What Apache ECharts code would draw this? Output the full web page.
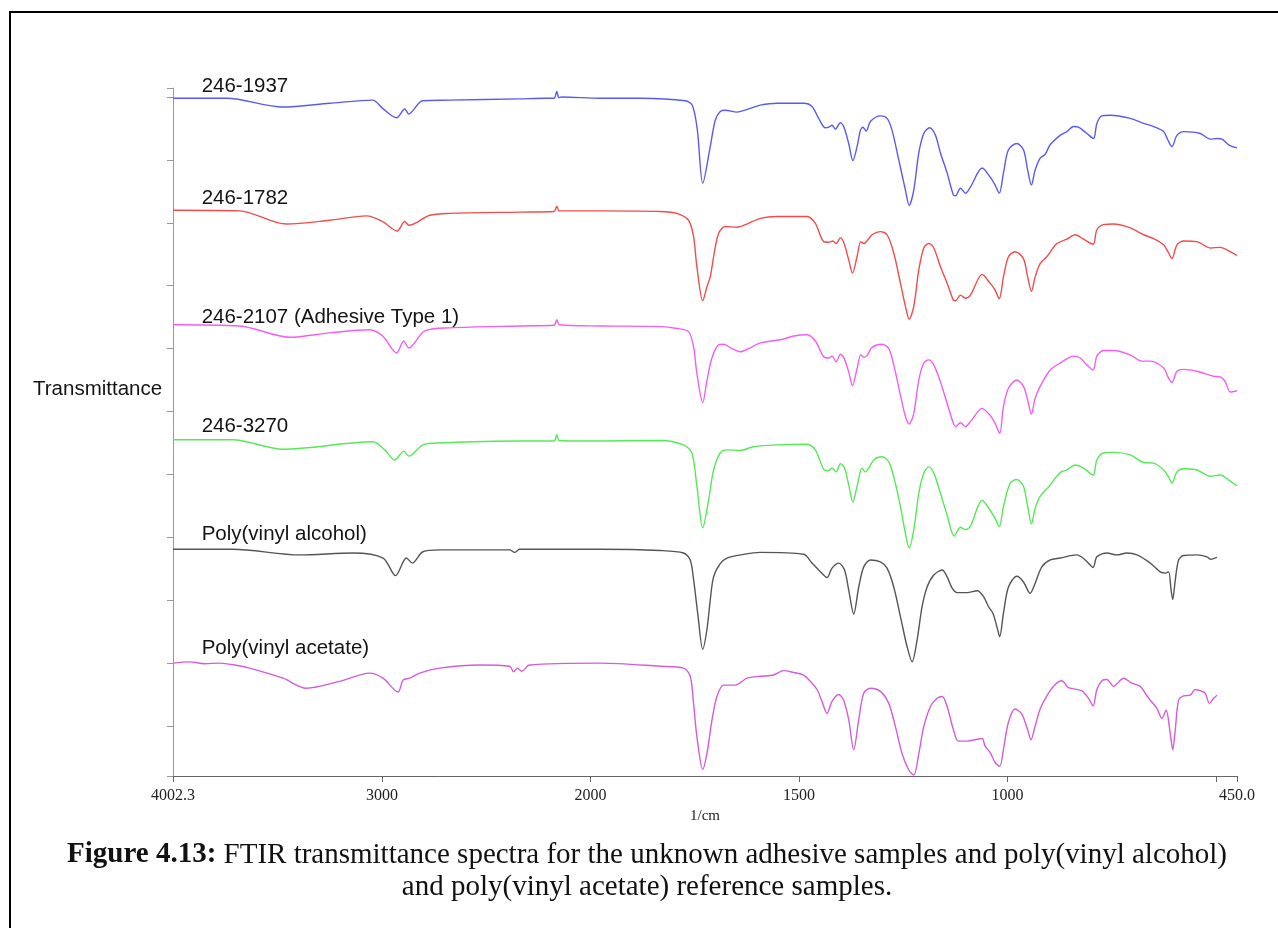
<!DOCTYPE html>
<html>
<head>
<meta charset="utf-8">
<title>FTIR transmittance spectra</title>
<script src="https://cdn.jsdelivr.net/npm/echarts@6/dist/echarts.min.js"></script>
<style>
  html, body { margin: 0; padding: 0; background: #fff; }
  #chart { width: 1278px; height: 928px; }
</style>
</head>
<body>
<div id="chart"></div>
<script>
// Wavenumber (1/cm) and stacked transmittance (offset, arbitrary units) per sample.
const sample1937 = [[4002,109.8],[3745,109.8],[3476,108.4],[3251,109.0],[3045,109.5],[2997,108.2],[2930,106.7],[2891,108.1],[2872,107.3],[2805,109.4],[2676,109.5],[2340,109.7],[2220,109.8],[2175,109.8],[2162,110.9],[2152,109.9],[2139,110.0],[1977,109.8],[1881,109.8],[1773,109.4],[1756,108.7],[1744,104.8],[1731,96.3],[1713,102.1],[1701,106.3],[1689,107.7],[1677,107.9],[1649,107.6],[1617,108.2],[1593,108.7],[1553,109.0],[1489,109.0],[1469,108.5],[1453,106.6],[1437,105.1],[1429,105.2],[1421,105.5],[1413,104.9],[1401,105.9],[1393,105.3],[1381,102.6],[1371,99.9],[1361,102.1],[1353,104.7],[1347,105.2],[1339,104.6],[1329,106.1],[1305,107.0],[1289,106.6],[1277,104.7],[1261,100.0],[1245,95.2],[1236,92.8],[1225,95.2],[1213,101.1],[1201,104.2],[1187,105.1],[1173,103.9],[1161,101.1],[1145,97.9],[1130,94.4],[1125,94.3],[1113,95.5],[1101,94.7],[1089,95.7],[1061,98.7],[1042,97.3],[1030,96.0],[1020,94.7],[1010,97.9],[998,101.6],[978,102.6],[962,101.6],[952,98.4],[943,96.0],[934,98.4],[922,100.3],[910,100.9],[898,102.4],[874,103.9],[858,104.5],[842,105.3],[830,105.2],[810,104.2],[794,103.4],[786,105.8],[774,107.0],[754,107.1],[706,106.6],[674,105.8],[650,105.3],[626,104.5],[616,103.2],[606,102.1],[594,103.9],[578,104.5],[538,104.2],[514,103.3],[498,103.4],[486,103.3],[470,102.4],[450,101.9]];

const sample1782 = [[4002,92.0],[3683,91.9],[3459,89.8],[3251,90.4],[3075,91.1],[2997,90.2],[2928,88.7],[2891,90.2],[2871,89.6],[2771,91.2],[2676,91.5],[2340,91.7],[2175,91.8],[2162,92.6],[2150,91.9],[1977,91.9],[1833,91.8],[1793,91.5],[1765,90.4],[1753,87.8],[1745,83.0],[1731,77.6],[1721,79.8],[1713,81.4],[1705,84.6],[1693,88.3],[1677,89.4],[1649,89.3],[1625,89.8],[1593,90.7],[1553,91.0],[1481,91.0],[1461,89.9],[1441,87.0],[1429,86.9],[1419,87.1],[1411,86.7],[1401,87.6],[1393,86.9],[1381,84.1],[1372,82.0],[1361,84.6],[1352,87.0],[1344,86.7],[1336,87.2],[1325,88.1],[1305,88.6],[1289,88.1],[1273,85.2],[1257,80.4],[1245,76.7],[1236,74.7],[1225,76.7],[1213,82.5],[1201,86.0],[1189,86.7],[1177,86.0],[1161,83.0],[1145,80.4],[1130,77.7],[1125,77.6],[1113,78.5],[1101,78.0],[1089,78.5],[1061,81.8],[1042,80.4],[1030,79.3],[1020,77.9],[1010,81.4],[998,84.6],[982,85.4],[962,84.3],[952,81.4],[943,79.1],[934,81.4],[922,83.5],[906,84.6],[882,86.7],[858,87.4],[838,88.1],[818,87.4],[795,86.6],[786,88.9],[770,89.7],[746,89.8],[706,89.2],[674,88.1],[650,87.5],[626,86.5],[614,85.2],[606,84.3],[594,86.5],[578,87.1],[546,87.0],[514,86.0],[490,86.1],[474,85.7],[450,84.8]];

const sample2107 = [[4002,73.8],[3682,73.6],[3443,71.8],[3251,72.5],[3059,73.0],[2997,72.0],[2930,69.3],[2896,71.2],[2872,70.1],[2795,72.8],[2676,73.3],[2340,73.6],[2175,73.7],[2162,74.6],[2150,73.8],[1977,73.6],[1833,73.5],[1793,73.2],[1765,72.7],[1753,70.3],[1745,66.0],[1731,61.4],[1721,64.9],[1709,68.5],[1693,70.6],[1681,70.7],[1661,70.0],[1641,69.5],[1621,70.0],[1593,70.9],[1545,71.4],[1513,72.0],[1481,72.2],[1461,71.2],[1441,68.7],[1429,68.5],[1421,68.8],[1411,67.9],[1401,69.1],[1393,68.6],[1381,66.3],[1372,64.1],[1361,66.8],[1352,69.0],[1344,68.6],[1336,69.0],[1325,70.2],[1301,70.7],[1285,70.0],[1273,67.4],[1257,62.6],[1245,59.2],[1236,58.0],[1225,59.7],[1213,65.0],[1201,67.7],[1189,68.2],[1177,67.4],[1161,64.7],[1145,61.3],[1130,58.1],[1125,57.6],[1113,58.2],[1101,57.6],[1089,58.4],[1061,60.5],[1042,59.4],[1030,58.1],[1019,56.5],[1010,60.8],[998,63.7],[978,65.0],[962,64.0],[952,61.8],[943,59.6],[934,62.1],[922,64.0],[898,66.6],[874,67.7],[842,68.8],[826,68.5],[810,67.4],[795,66.6],[786,68.8],[770,69.7],[746,69.7],[706,69.0],[678,68.0],[658,68.0],[626,66.9],[614,65.3],[606,64.6],[594,66.4],[578,66.7],[546,66.4],[506,65.6],[490,65.5],[478,64.7],[466,63.1],[450,63.3]];

const sample3270 = [[4002,55.5],[3715,55.5],[3475,54.0],[3043,55.2],[2987,53.9],[2939,52.3],[2895,53.7],[2871,52.9],[2804,54.7],[2724,55.0],[2340,55.3],[2175,55.3],[2162,56.3],[2150,55.4],[1977,55.3],[1833,55.4],[1777,54.7],[1757,53.4],[1745,48.1],[1731,41.5],[1717,45.9],[1705,50.7],[1689,53.4],[1673,53.9],[1641,53.8],[1609,54.4],[1553,54.7],[1481,54.8],[1461,53.9],[1441,50.8],[1429,50.6],[1421,51.0],[1411,50.4],[1401,51.7],[1391,51.0],[1381,48.3],[1371,45.6],[1361,48.1],[1349,51.0],[1341,50.4],[1333,51.0],[1321,52.3],[1301,52.8],[1285,52.0],[1273,49.6],[1257,44.9],[1245,40.6],[1236,38.3],[1225,41.2],[1213,47.0],[1201,50.2],[1189,51.2],[1177,50.2],[1161,47.0],[1145,43.5],[1128,40.2],[1113,41.6],[1101,41.2],[1089,41.8],[1061,45.9],[1042,44.3],[1030,43.0],[1020,41.7],[1010,44.9],[994,48.6],[978,49.2],[962,48.1],[952,44.9],[943,42.1],[934,44.6],[922,46.5],[898,48.3],[874,50.3],[858,50.7],[838,51.5],[818,51.0],[795,49.9],[786,52.3],[770,53.4],[746,53.5],[706,53.1],[674,51.9],[650,51.8],[626,50.7],[614,49.6],[606,48.6],[594,50.4],[578,50.9],[546,50.7],[514,49.7],[490,49.9],[470,49.1],[450,48.2]];

const polyVinylAlcohol = [[4002,38.1],[3715,38.1],[3395,37.2],[3139,37.5],[2995,36.7],[2935,33.9],[2883,36.7],[2854,35.9],[2804,37.7],[2724,38.0],[2388,38.0],[2364,37.6],[2340,38.1],[1977,38.1],[1833,37.9],[1777,37.5],[1761,36.4],[1753,33.3],[1743,27.9],[1731,22.2],[1721,25.3],[1713,30.0],[1705,33.7],[1689,35.8],[1673,36.7],[1641,37.2],[1593,37.6],[1489,37.3],[1469,35.9],[1453,34.8],[1441,34.0],[1433,33.6],[1421,35.1],[1405,35.9],[1391,34.8],[1381,31.6],[1369,27.8],[1357,32.1],[1345,35.3],[1329,36.4],[1305,36.1],[1289,35.1],[1273,32.1],[1257,27.4],[1241,22.6],[1229,20.2],[1217,23.7],[1205,29.0],[1193,32.1],[1177,34.0],[1157,34.8],[1145,33.7],[1133,31.9],[1121,31.2],[1097,31.2],[1073,31.5],[1058,30.6],[1046,29.0],[1035,27.9],[1025,25.6],[1019,24.2],[1010,27.9],[998,32.1],[978,33.8],[962,32.9],[946,31.1],[934,32.7],[918,35.3],[898,36.4],[874,36.7],[834,37.2],[814,36.4],[795,35.2],[786,36.9],[762,37.5],[738,37.2],[714,37.5],[690,37.2],[658,35.9],[634,34.5],[622,34.3],[614,34.5],[608,31.6],[604,30.1],[598,33.2],[590,36.4],[578,37.1],[546,37.2],[522,36.9],[514,36.5],[498,36.8]];

const polyVinylAcetate = [[4002,20.0],[3922,20.2],[3850,19.9],[3778,20.0],[3706,19.7],[3635,19.2],[3475,17.6],[3363,16.0],[3203,17.1],[3059,18.4],[2995,17.6],[2923,15.4],[2899,17.3],[2867,17.6],[2819,18.4],[2724,19.2],[2532,19.7],[2388,19.5],[2369,18.6],[2350,19.2],[2330,18.7],[2292,19.7],[1977,20.0],[1833,19.5],[1777,19.2],[1761,17.9],[1753,13.6],[1745,8.3],[1731,3.1],[1721,5.6],[1709,10.9],[1697,14.7],[1681,16.5],[1653,16.5],[1625,17.6],[1593,17.9],[1561,18.1],[1537,18.8],[1513,18.5],[1489,18.1],[1473,17.1],[1457,15.8],[1445,13.9],[1433,12.0],[1421,13.9],[1405,15.0],[1393,14.1],[1381,11.0],[1369,6.2],[1357,11.0],[1345,15.2],[1329,16.0],[1305,15.5],[1285,13.6],[1269,9.9],[1253,5.6],[1237,3.0],[1225,2.2],[1213,5.6],[1201,9.9],[1185,13.1],[1169,14.4],[1157,14.7],[1145,13.1],[1130,9.4],[1118,7.6],[1097,7.6],[1073,7.9],[1061,8.0],[1054,6.8],[1042,5.8],[1030,4.2],[1019,3.6],[1010,6.3],[998,10.6],[982,12.7],[966,11.9],[952,9.4],[944,7.8],[934,10.0],[922,12.7],[906,14.8],[886,16.6],[870,17.2],[854,16.1],[822,15.6],[806,14.4],[795,13.2],[786,15.8],[774,17.2],[762,17.4],[746,16.3],[722,17.6],[702,16.8],[682,16.3],[670,15.2],[658,14.1],[642,12.8],[630,11.2],[620,12.5],[610,8.8],[604,6.2],[598,9.4],[590,14.1],[578,14.8],[562,14.9],[550,15.8],[534,15.5],[526,15.2],[516,13.6],[506,14.4],[498,14.9]];

const sampleNames = ['246-1937', '246-1782', '246-2107 (Adhesive Type 1)', '246-3270', 'Poly(vinyl alcohol)', 'Poly(vinyl acetate)'];
const sampleColors = ['#5a5af2', '#f04c4c', '#f25ef2', '#55ea55', '#555555', '#d45cd8'];
const spectra = [sample1937, sample1782, sample2107, sample3270, polyVinylAlcohol, polyVinylAcetate];
// name label anchor on the stacked scale (the text sits a fixed offset above it)
const nameLabelAt = [108.7, 90.8, 72.0, 54.6, 37.4, 19.35];
const nameLabelWn = 3865;

// x tick marks (1/cm): 500 gets a tick without a label
const xTickWn = [4002.3, 3000, 2000, 1500, 1000, 500, 450];
const xLabelWn = [4002.3, 3000, 2000, 1500, 1000, 450];
const yMin = 2.05, yMax = 111.43;
const yTicks = [yMin, 10, 20, 30, 40, 50, 60, 70, 80, 90, 100, 110, yMax];

// The instrument plot halves the scale above 2000 1/cm.
const toAxis = wn => (wn <= 2000 ? wn : 2000 + (wn - 2000) / 2);
const fromAxis = p => (p <= 2000 ? p : 2000 + (p - 2000) * 2);
const xMaxWn = 4002.3, xMinWn = 450;

const chart = echarts.init(document.getElementById('chart'), null, { renderer: 'canvas' });

const series = spectra.map((pts, i) => ({
  name: sampleNames[i],
  type: 'line',
  data: pts.map(([wn, t]) => [toAxis(wn), t]),
  showSymbol: false,
  smooth: 0.3,
  lineStyle: { color: sampleColors[i], width: 1.4 },
  itemStyle: { color: sampleColors[i] },
  emphasis: { disabled: true },
  markPoint: {
    symbol: 'circle',
    symbolSize: 0,
    silent: true,
    label: {
      show: true,
      position: 'right',
      distance: 0,
      offset: [0, -19],
      formatter: sampleNames[i],
      color: '#141414',
      fontFamily: 'Liberation Sans, Arial, sans-serif',
      fontSize: 20.5
    },
    data: [{ coord: [toAxis(nameLabelWn), nameLabelAt[i]] }]
  }
}));

const serif = '"Liberation Serif", "Times New Roman", serif';

chart.setOption({
  animation: false,
  backgroundColor: '#ffffff',
  grid: { left: 173, top: 88, width: 1064, height: 688, containLabel: false },
  xAxis: {
    type: 'value',
    inverse: true,
    min: toAxis(xMinWn),
    max: toAxis(xMaxWn),
    name: '1/cm',
    nameLocation: 'middle',
    nameGap: 30,
    nameTextStyle: { fontFamily: serif, fontSize: 15, color: '#222' },
    axisLine: { show: true, lineStyle: { color: '#666', width: 1 } },
    axisTick: { show: true, length: 6, customValues: xTickWn.map(toAxis), lineStyle: { color: '#666' } },
    axisLabel: {
      show: true,
      customValues: xLabelWn.map(toAxis),
      margin: 12,
      fontFamily: serif,
      fontSize: 16,
      color: '#222',
      formatter: v => {
        const wn = fromAxis(v);
        if (Math.abs(wn - xMaxWn) < 0.5) return '4002.3';
        if (Math.abs(wn - xMinWn) < 0.5) return '450.0';
        return String(Math.round(wn));
      }
    },
    splitLine: { show: false }
  },
  yAxis: {
    type: 'value',
    min: yMin,
    max: yMax,
    axisLine: { show: true, lineStyle: { color: '#999', width: 1 } },
    axisTick: { show: true, length: 6, customValues: yTicks, lineStyle: { color: '#999' } },
    axisLabel: { show: false },
    splitLine: { show: false }
  },
  graphic: [
    {
      type: 'rect',
      silent: true,
      shape: { x: 10, y: 12, width: 1400, height: 1000 },
      style: { fill: 'none', stroke: '#000', lineWidth: 2 }
    },
    {
      type: 'text',
      silent: true,
      x: 33,
      y: 389,
      style: {
        text: 'Transmittance',
        fill: '#141414',
        fontSize: 20.5,
        fontFamily: '"Liberation Sans", Arial, sans-serif',
        align: 'left',
        verticalAlign: 'middle'
      }
    },
    {
      type: 'text',
      silent: true,
      x: 647,
      y: 871,
      style: {
        text: '{b|Figure 4.13:} FTIR transmittance spectra for the unknown adhesive samples and poly(vinyl alcohol)\nand poly(vinyl acetate) reference samples.',
        fill: '#111',
        fontSize: 29,
        fontFamily: serif,
        align: 'center',
        verticalAlign: 'middle',
        lineHeight: 32,
        rich: {
          b: { fontWeight: 'bold', fontSize: 29, fontFamily: serif, fill: '#111', lineHeight: 32 }
        }
      }
    }
  ],
  series
});
</script>
</body>
</html>
